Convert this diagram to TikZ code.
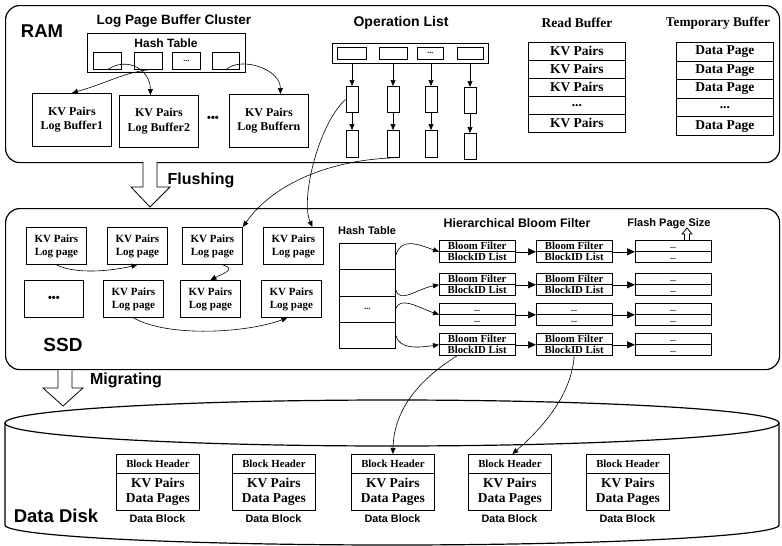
\documentclass[tikz,border=0pt]{standalone}
\usepackage{fontspec}
\setmainfont{Liberation Serif}
\newfontfamily\ssf{Liberation Sans}
\usetikzlibrary{arrows.meta,calc}
\newcommand\fz[2]{\fontsize{#1}{#2}\selectfont}
\newcommand\tdots{...}
\begin{document}
\begin{tikzpicture}[x=1pt,y=-1pt,
  bx/.style={draw, line width=0.8pt, inner sep=0pt, anchor=north west},
  cont/.style={draw, line width=1.2pt, rounded corners=14pt, inner sep=0pt, anchor=north west},
  ttl/.style={font=\ssf\bfseries\fz{#1}{#1}, inner sep=0pt},
  ser/.style={font=\bfseries\fz{#1}{#1}, inner sep=0pt},
  arr/.style={line width=0.6pt, -{Triangle[length=6pt,width=5pt]}},
  barr/.style={line width=0.6pt, -{Triangle[length=8pt,width=7pt]}},
  hollow/.style={draw, line width=0.8pt, fill=white},
  lp/.style={bx, minimum width=60pt, minimum height=37pt, font=\bfseries\fz{11}{13}, align=center},
  lbuf/.style={bx, minimum width=79pt, minimum height=53pt, font=\bfseries\fz{12}{14.5}, align=center},
  oprect/.style={bx, anchor=north, minimum width=12pt},
  rbrow/.style={bx, minimum width=97pt, minimum height=18pt, font=\bfseries\fz{13.5}{13.5}},
  bfrow/.style={bx, minimum width=75.5pt, minimum height=11pt, font=\bfseries\fz{10.8}{10.8}, text height=7.3pt, text depth=0pt},
  bfdots/.style={bfrow, font=\bfseries\fz{8}{8}, text height=4.5pt},
  dots/.style={font=\bfseries\fz{8}{8}},
]
\useasboundingbox (0,0) rectangle (782,546);

% ================= RAM =================
\node[cont, minimum width=774pt, minimum height=157pt] (ram) at (5,5) {};
\node[ttl=18.5] (ramlbl) at (42,31) {RAM};
\node[ttl=13.5] (lpbc) at (174,21) {Log Page Buffer Cluster};
\node[bx, minimum width=158pt, minimum height=39pt] (ht) at (87,33) {};
\node[ttl=12] (htl) at (166,43) {Hash Table};
\node[bx, minimum width=28pt, minimum height=17pt] (h1) at (93,52) {};
\node[bx, minimum width=28pt, minimum height=17pt] (h2) at (134,52) {};
\node[bx, minimum width=28pt, minimum height=17pt, dots] (h3) at (172,52) {\tdots};
\node[bx, minimum width=27pt, minimum height=17pt] (h4) at (212,52) {};

\node[lbuf] (lb1) at (32,93) {KV Pairs\\Log Buffer1};
\node[lbuf, minimum height=52pt] (lb2) at (119,95) {KV Pairs\\Log Buffer2};
\node[lbuf] (lbn) at (229,94) {KV Pairs\\Log Buffern};
\node[ttl=11] (lbdots) at (213,119) {•••};

\draw[arr] (h1.south) .. controls +(20,-14) and +(0,-25) .. ([xshift=-8.5pt]lb2.north);
\draw[arr] (h2.south) .. controls +(-25,3) and +(35,-10) .. (lb1.north);
\draw[arr] (h4.south) .. controls +(15,-14) and +(0,-25) .. ([xshift=11.5pt]lbn.north);

% Operation list
\node[ttl=14] (opt) at (401,23) {Operation List};
\node[bx, minimum width=156pt, minimum height=20pt] (op) at (332,43) {};
\node[bx, minimum width=29pt, minimum height=12pt] (oc1) at (337,47) {};
\node[bx, minimum width=28pt, minimum height=12pt] (oc2) at (379,47) {};
\node[bx, minimum width=26pt, minimum height=12pt, dots] (oc3) at (417,47) {\tdots};
\node[bx, minimum width=26pt, minimum height=12pt] (oc4) at (457,47) {};

\node[oprect, minimum height=26pt] (o11) at (352,86) {};
\node[oprect, minimum height=27pt] (o12) at (352,130) {};
\node[oprect, minimum height=26pt] (o21) at (393,86) {};
\node[oprect, minimum height=27pt] (o22) at (393,130) {};
\node[oprect, minimum height=26pt] (o31) at (431,86) {};
\node[oprect, minimum height=27pt] (o32) at (431,130) {};
\node[oprect, minimum height=26pt] (o41) at (470,87) {};
\node[oprect, minimum height=26pt] (o42) at (470,133) {};
\foreach \c in {1,2,3,4}{
  \draw[arr] (op.south -| o\c1) -- (o\c1.north);
  \draw[arr] (o\c1.south) -- (o\c2.north);
}

% Read buffer
\node[ser=13.5] (rbt) at (577,23) {Read Buffer};
\node[rbrow] (rb1) at (528,42) {KV Pairs};
\node[rbrow] (rb2) at (528,60) {KV Pairs};
\node[rbrow] (rb3) at (528,78) {KV Pairs};
\node[rbrow] (rb4) at (528,96) {\tdots};
\node[rbrow] (rb5) at (528,114) {KV Pairs};

% Temporary buffer
\node[ser=13.3] (tbt) at (718,23) {Temporary Buffer};
\node[rbrow, minimum height=18.6pt] (tb1) at (676,42) {Data Page};
\node[rbrow, minimum height=18.6pt] (tb2) at (676,60.6) {Data Page};
\node[rbrow, minimum height=18.6pt] (tb3) at (676,79.2) {Data Page};
\node[rbrow, minimum height=18.6pt] (tb4) at (676,97.8) {\tdots};
\node[rbrow, minimum height=18.6pt] (tb5) at (676,116.4) {Data Page};

% Flushing arrow
\draw[hollow] (143,162) -- (143,187) -- (131,187) -- (150,207) -- (170,187) -- (157,187) -- (157,162);
\node[ttl=16] (flush) at (201,180) {Flushing};

% ================= SSD =================
\node[cont, minimum width=774pt, minimum height=161pt] (ssd) at (5,208) {};
\node[ttl=19] (ssdlbl) at (63,345) {SSD};

\node[lp] (s1) at (26,227) {KV Pairs\\Log page};
\node[lp] (s2) at (107,227) {KV Pairs\\Log page};
\node[lp] (s3) at (182,227) {KV Pairs\\Log page};
\node[lp] (s4) at (263,227) {KV Pairs\\Log page};
\node[lp, minimum width=59pt, font=\ssf\bfseries\fz{11}{11}] (s5) at (24,280) {•••};
\node[lp] (s6) at (103,280) {KV Pairs\\Log page};
\node[lp] (s7) at (180,280) {KV Pairs\\Log page};
\node[lp] (s8) at (261,280) {KV Pairs\\Log page};

\draw[arr] (s1.south) .. controls +(20,10) and +(-25,6) .. (s2.south);
\draw[arr] ([xshift=10pt]s3.south) .. controls +(15,4) and +(12,-6) .. (s7.north);
\draw[arr] (s6.south) .. controls +(35,20) and +(-40,15) .. ([xshift=-4pt]s8.south);

% RAM -> SSD
\draw[arr] (o11.west) .. controls +(-28,26) and +(-12,-27) .. ([xshift=19pt]s4.north);
\draw[arr] (o22.south) .. controls +(-70,3) and +(28,-40) .. (s3.north east);

% Hash table in SSD
\node[ttl=11] (sht) at (367,231) {Hash Table};
\node[bx, minimum width=56pt, minimum height=26pt] (st1) at (339,243) {};
\node[bx, minimum width=56pt, minimum height=27pt] (st2) at (339,269) {};
\node[bx, minimum width=56pt, minimum height=26pt, dots] (st3) at (339,296) {\tdots};
\node[bx, minimum width=56pt, minimum height=26pt] (st4) at (339,322) {};

\node[ttl=12.4] (hbf) at (517,223) {Hierarchical Bloom Filter};
\node[ttl=11] (fps) at (669,224) {Flash Page Size};
\draw[hollow] (684.5,240) -- (684.5,234) -- (682,234) -- (687,228) -- (692,234) -- (689.5,234) -- (689.5,240);

% Bloom filter boxes
\foreach \r/\y/\ta/\tb in {1/240/Bloom Filter/BlockID List, 2/273/Bloom Filter/BlockID List, 4/333/Bloom Filter/BlockID List}{
  \node[bfrow] (b\r1u) at (439,\y) {\ta};
  \node[bfrow] (b\r1l) at (439,\y+11) {\tb};
  \node[bfrow] (b\r2u) at (536,\y) {\ta};
  \node[bfrow] (b\r2l) at (536,\y+11) {\tb};
}
\node[bfdots] (b31u) at (439,303) {\tdots};
\node[bfdots] (b31l) at (439,314) {\tdots};
\node[bfdots] (b32u) at (536,303) {\tdots};
\node[bfdots] (b32l) at (536,314) {\tdots};
\foreach \r/\y in {1/240,2/273,3/303,4/333}{
  \node[bfdots] (b\r3u) at (635,\y) {\tdots};
  \node[bfdots] (b\r3l) at (635,\y+11) {\tdots};
  \draw[barr] (b\r1u.south east) -- (b\r2u.south west);
  \draw[barr] (b\r2u.south east) -- (b\r3u.south west);
}

\draw[arr] ([yshift=1pt]st1.east) .. controls +(5,-18) and +(-22,-8) .. (b11u.south west);
\draw[arr] ([yshift=-7pt]st2.east) .. controls +(4,14) and +(-22,4) .. (b21u.south west);
\draw[arr] ([yshift=1pt]st3.east) .. controls +(5,-12) and +(-22,-8) .. (b31u.south west);
\draw[arr] (st4.east) .. controls +(4,14) and +(-22,3) .. (b41u.south west);

% Migrating arrow
\draw[hollow] (58,370) -- (58,388) -- (43,388) -- (63,406) -- (83,388) -- (72,388) -- (72,370);
\node[ttl=16] (migr) at (126,380) {Migrating};

% ================= Data Disk =================
\draw[line width=1.2pt] (392,423) ellipse [x radius=387, y radius=23];
\draw[line width=1.2pt] (5,423) -- (5,525) arc[start angle=180, end angle=0, x radius=387, y radius=20] -- (779,423);
\node[ttl=18.5] (ddlbl) at (56,516) {Data Disk};

\foreach \i/\x in {1/116,2/232,3/351,4/468,5/586}{
  \node[bx, minimum width=83pt, minimum height=19pt, font=\bfseries\fz{10.8}{10.8}] (dh\i) at (\x,454) {Block Header};
  \node[bx, minimum width=83pt, minimum height=37pt, font=\bfseries\fz{13.5}{15}, align=center] (db\i) at (\x,473) {KV Pairs\\Data Pages};
  \node[ttl=10.8] (dl\i) at (\x+41.5,519) {Data Block};
}

\draw[arr] ([xshift=-20pt]b41l.south) .. controls +(-32,20) and +(1,-49) .. (dh3.north);
\draw[arr] (b42l.south) .. controls +(-2,33) and +(38,-33) .. ([xshift=2.5pt]dh4.north);
\end{tikzpicture}
\end{document}
